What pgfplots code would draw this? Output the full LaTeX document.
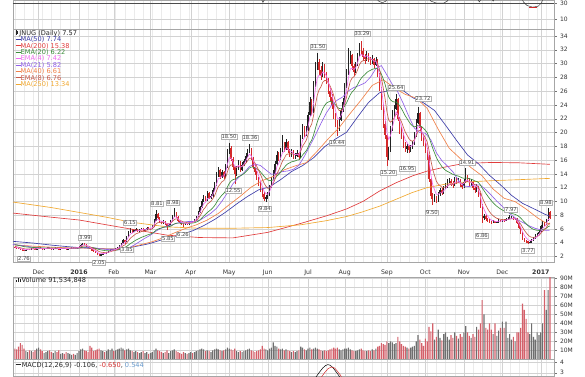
\documentclass[border=0pt]{standalone}
\usepackage{pgfplots}
\pgfplotsset{compat=1.18}
\usepackage{pgfplotstable}
\usepackage{fontspec}
\setmainfont{DejaVu Sans}
\definecolor{cma50}{HTML}{3C3CA8}
\definecolor{cma200}{HTML}{E03C3C}
\definecolor{cema20}{HTML}{3C8C3C}
\definecolor{cema4}{HTML}{F06CF0}
\definecolor{cma21}{HTML}{9060E8}
\definecolor{cma40}{HTML}{F08048}
\definecolor{cema8}{HTML}{C85A4A}
\definecolor{cma250}{HTML}{F0A830}
\definecolor{cred}{HTML}{D42A2A}
\definecolor{cblk}{HTML}{222222}
\definecolor{vred}{HTML}{D4606A}
\definecolor{vgray}{HTML}{6E6E6E}
\definecolor{gmaj}{HTML}{D2D2D2}
\definecolor{gmin}{HTML}{EBEBEB}
\definecolor{mblue}{HTML}{6699CC}

\pgfplotstableread{
x o h l c v e4 e8 e20
-35 3.40 3.48 3.28 3.35 12 3.35 3.45 3.71
-34 3.35 3.42 3.18 3.25 11 3.31 3.41 3.67
-33 3.25 3.30 3.05 3.10 14 3.23 3.34 3.61
-32 3.10 3.20 2.98 3.05 18 3.16 3.27 3.56
-31 3.05 3.10 2.88 2.95 16 3.07 3.20 3.50
-30 2.95 3.00 2.76 2.85 12 2.98 3.12 3.44
-29 2.85 3.05 2.82 3.00 9 2.99 3.10 3.40
-28 3.00 3.15 2.95 3.10 8 3.03 3.10 3.37
-27 3.10 3.16 2.98 3.05 10 3.04 3.09 3.34
-26 3.05 3.25 3.00 3.20 9 3.10 3.11 3.33
-25 3.20 3.28 3.08 3.15 8 3.12 3.12 3.31
-24 3.15 3.20 2.98 3.05 10 3.09 3.11 3.29
-23 3.05 3.26 3.02 3.20 12 3.14 3.13 3.28
-22 3.20 3.36 3.14 3.30 13 3.20 3.17 3.28
-21 3.30 3.34 3.10 3.15 11 3.18 3.16 3.27
-20 3.15 3.20 3.00 3.05 9 3.13 3.14 3.25
-19 3.05 3.16 2.98 3.10 7 3.12 3.13 3.23
-18 3.10 3.30 3.06 3.25 8 3.17 3.16 3.23
-17 3.25 3.42 3.20 3.35 9 3.24 3.20 3.25
-16 3.35 3.38 3.15 3.20 10 3.23 3.20 3.24
-15 3.20 3.24 3.04 3.10 8 3.18 3.18 3.23
-14 3.10 3.22 3.05 3.15 7 3.17 3.17 3.22
-13 3.15 3.35 3.12 3.30 9 3.22 3.20 3.23
-12 3.30 3.34 3.14 3.20 8 3.21 3.20 3.23
-11 3.20 3.24 3.00 3.05 10 3.15 3.17 3.21
-10 3.05 3.20 3.00 3.15 6 3.15 3.16 3.20
-9 3.15 3.30 3.10 3.25 7 3.19 3.18 3.21
-8 3.25 3.30 3.14 3.20 6 3.19 3.19 3.21
-7 3.20 3.24 3.05 3.10 8 3.16 3.17 3.20
-6 3.10 3.20 3.04 3.15 7 3.15 3.16 3.19
-5 3.15 3.30 3.10 3.25 6 3.19 3.18 3.20
-4 3.25 3.36 3.20 3.30 5 3.24 3.21 3.21
-3 3.30 3.34 3.16 3.20 6 3.22 3.21 3.21
-2 3.20 3.30 3.15 3.25 5 3.23 3.22 3.21
-1 3.25 3.38 3.20 3.30 7 3.26 3.24 3.22
0 3.30 3.55 3.28 3.45 9 3.34 3.28 3.24
1 3.45 3.78 3.40 3.70 11 3.48 3.38 3.29
2 3.70 3.99 3.62 3.90 12 3.65 3.49 3.34
3 3.90 3.95 3.65 3.75 10 3.69 3.55 3.38
4 3.75 3.80 3.45 3.50 9 3.61 3.54 3.39
5 3.50 3.55 3.22 3.30 8 3.49 3.49 3.39
6 3.30 3.35 3.02 3.10 15 3.33 3.40 3.36
7 3.10 3.14 2.84 2.90 13 3.16 3.29 3.31
8 2.90 2.95 2.68 2.75 9 3.00 3.17 3.26
9 2.75 2.80 2.48 2.55 10 2.82 3.03 3.19
10 2.55 2.58 2.22 2.30 11 2.61 2.87 3.11
11 2.30 2.36 2.05 2.15 12 2.43 2.71 3.02
12 2.15 2.40 2.10 2.35 10 2.40 2.63 2.95
13 2.35 2.56 2.30 2.50 9 2.44 2.60 2.91
14 2.50 2.54 2.34 2.40 8 2.42 2.56 2.86
15 2.40 2.66 2.38 2.60 9 2.49 2.57 2.84
16 2.60 2.86 2.56 2.80 11 2.62 2.62 2.83
17 2.80 3.02 2.76 2.95 10 2.75 2.69 2.84
18 2.95 3.16 2.90 3.10 12 2.89 2.78 2.87
19 3.10 3.15 2.94 3.00 9 2.93 2.83 2.88
20 3.00 3.26 2.96 3.20 10 3.04 2.91 2.91
21 3.20 3.42 3.16 3.35 11 3.16 3.01 2.95
22 3.35 3.68 3.30 3.60 12 3.34 3.14 3.02
23 3.60 4.00 3.55 3.90 13 3.56 3.31 3.10
24 3.90 4.55 3.88 4.40 12 3.90 3.55 3.22
25 4.40 4.45 3.85 4.10 10 3.98 3.67 3.31
26 4.10 5.00 4.05 4.90 11 4.35 3.95 3.46
27 4.90 5.65 4.85 5.50 12 4.81 4.29 3.65
28 5.50 6.15 5.40 5.90 10 5.25 4.65 3.87
29 5.90 5.98 5.45 5.60 9 5.39 4.86 4.03
30 5.60 5.90 5.50 5.80 8 5.55 5.07 4.20
31 5.80 6.10 5.70 6.00 9 5.73 5.28 4.37
32 6.00 6.05 5.62 5.70 8 5.72 5.37 4.50
33 5.70 6.00 5.60 5.90 7 5.79 5.49 4.63
34 5.90 6.20 5.84 6.10 8 5.92 5.62 4.77
35 6.10 6.14 5.72 5.80 9 5.87 5.66 4.87
36 5.80 6.05 5.72 5.95 7 5.90 5.73 4.97
37 5.95 6.30 5.90 6.20 8 6.02 5.83 5.09
38 6.20 6.26 5.92 6.00 6 6.01 5.87 5.18
39 6.00 6.20 5.94 6.10 7 6.05 5.92 5.26
40 6.10 6.55 6.05 6.40 8 6.19 6.03 5.37
41 6.40 7.40 6.35 7.20 10 6.59 6.29 5.55
42 7.20 8.81 7.10 8.20 12 7.24 6.71 5.80
43 8.20 8.30 7.40 7.60 10 7.38 6.91 5.97
44 7.60 7.70 6.90 7.00 9 7.23 6.93 6.07
45 7.00 7.10 6.65 6.80 8 7.06 6.90 6.14
46 6.80 7.25 6.70 7.10 7 7.07 6.95 6.23
47 7.10 7.15 6.55 6.70 8 6.92 6.89 6.27
48 6.70 6.78 5.85 6.40 10 6.72 6.78 6.29
49 6.40 6.75 6.30 6.60 7 6.67 6.74 6.32
50 6.60 7.35 6.55 7.20 9 6.88 6.84 6.40
51 7.20 8.05 7.10 7.90 10 7.29 7.08 6.54
52 7.90 8.98 7.80 8.40 11 7.73 7.37 6.72
53 8.40 8.50 7.65 7.80 9 7.76 7.47 6.82
54 7.80 7.90 7.00 7.10 8 7.50 7.39 6.85
55 7.10 7.20 6.70 6.80 7 7.22 7.26 6.84
56 6.80 6.90 6.55 6.70 6 7.01 7.13 6.83
57 6.70 6.80 6.26 6.60 8 6.85 7.01 6.81
58 6.60 6.90 6.50 6.80 7 6.83 6.97 6.81
59 6.80 6.88 6.60 6.70 6 6.78 6.91 6.80
60 6.70 7.00 6.62 6.90 7 6.83 6.91 6.81
61 6.90 7.20 6.82 7.10 8 6.94 6.95 6.84
62 7.10 7.18 6.90 7.00 7 6.96 6.96 6.85
63 7.00 7.50 6.95 7.40 8 7.14 7.06 6.90
64 7.40 7.95 7.35 7.80 9 7.40 7.22 6.99
65 7.80 8.60 7.75 8.40 10 7.80 7.48 7.12
66 8.40 9.40 8.30 9.20 11 8.36 7.87 7.32
67 9.20 10.30 9.10 10.00 12 9.02 8.34 7.58
68 10.00 10.90 9.90 10.60 11 9.65 8.84 7.86
69 10.60 10.80 10.00 10.20 9 9.87 9.14 8.09
70 10.20 11.50 10.10 11.20 10 10.40 9.60 8.38
71 11.20 11.40 10.30 10.50 9 10.44 9.80 8.58
72 10.50 11.10 10.30 10.80 8 10.59 10.02 8.80
73 10.80 11.90 10.70 11.60 10 10.99 10.37 9.06
74 11.60 12.80 11.50 12.40 11 11.56 10.82 9.38
75 12.40 14.20 12.30 13.80 12 12.45 11.48 9.80
76 13.80 15.00 13.60 14.50 11 13.27 12.15 10.25
77 14.50 14.70 13.30 13.60 10 13.40 12.48 10.57
78 13.60 14.60 13.40 14.20 9 13.72 12.86 10.91
79 14.20 14.40 13.20 13.50 10 13.63 13.00 11.16
80 13.50 15.40 13.40 15.00 11 14.18 13.44 11.53
81 15.00 17.60 14.90 17.20 13 15.39 14.28 12.07
82 17.20 18.50 16.90 17.80 12 16.35 15.06 12.61
83 17.80 18.00 15.80 16.20 11 16.29 15.31 12.95
84 16.20 16.40 14.60 15.00 10 15.78 15.24 13.15
85 15.00 15.20 12.55 14.00 12 15.07 14.97 13.23
86 14.00 15.20 13.70 14.80 9 14.96 14.93 13.38
87 14.80 16.00 14.60 15.60 8 15.22 15.08 13.59
88 15.60 15.80 14.30 14.60 9 14.97 14.97 13.69
89 14.60 15.70 14.40 15.30 8 15.10 15.05 13.84
90 15.30 16.20 15.10 15.80 9 15.38 15.21 14.03
91 15.80 17.00 15.60 16.60 10 15.87 15.52 14.27
92 16.60 17.60 16.40 17.20 11 16.40 15.89 14.55
93 17.20 18.36 17.00 17.60 12 16.88 16.27 14.84
94 17.60 17.80 16.00 16.20 10 16.61 16.26 14.97
95 16.20 16.40 14.70 15.00 9 15.97 15.98 14.97
96 15.00 15.30 13.90 14.20 8 15.26 15.58 14.90
97 14.20 14.40 13.10 13.40 9 14.52 15.10 14.76
98 13.40 13.60 12.20 12.60 10 13.75 14.54 14.55
99 12.60 12.80 11.40 11.80 11 12.97 13.93 14.29
100 11.80 12.00 10.60 11.00 15 12.18 13.28 13.98
101 11.00 11.30 10.00 10.40 12 11.47 12.64 13.64
102 10.40 10.90 9.84 10.60 11 11.12 12.19 13.35
103 10.60 11.30 10.30 10.90 10 11.03 11.90 13.11
104 10.90 12.40 10.80 12.00 12 11.42 11.92 13.01
105 12.00 13.60 11.90 13.20 13 12.13 12.21 13.03
106 13.20 14.50 13.00 14.00 19 12.88 12.61 13.12
107 14.00 15.80 13.90 15.40 15 13.89 13.23 13.34
108 15.40 17.30 15.30 16.80 14 15.05 14.02 13.67
109 16.80 17.10 15.80 16.20 12 15.51 14.50 13.91
110 16.20 17.80 16.00 17.40 11 16.27 15.15 14.24
111 17.40 19.60 17.20 18.20 12 17.04 15.83 14.62
112 18.20 18.60 17.20 17.60 10 17.26 16.22 14.90
113 17.60 19.00 17.40 18.60 11 17.80 16.75 15.25
114 18.60 18.80 17.00 17.40 10 17.64 16.89 15.46
115 17.40 17.60 16.40 16.80 9 17.30 16.87 15.59
116 16.80 17.60 16.50 17.20 8 17.26 16.95 15.74
117 17.20 17.40 16.10 16.40 9 16.92 16.82 15.80
118 16.40 17.00 16.10 16.60 8 16.79 16.77 15.88
119 16.60 17.40 16.40 17.00 9 16.87 16.82 15.99
120 17.00 17.20 16.00 16.40 10 16.68 16.73 16.03
121 16.40 19.60 16.30 19.20 14 17.69 17.28 16.33
122 19.20 21.20 19.00 20.60 13 18.85 18.02 16.73
123 20.60 20.90 19.40 19.80 11 19.23 18.41 17.03
124 19.80 20.90 19.50 20.40 10 19.70 18.85 17.35
125 20.40 23.00 20.20 22.60 12 20.86 19.69 17.85
126 22.60 25.20 22.40 24.40 13 22.28 20.73 18.47
127 24.40 24.80 22.60 23.00 11 22.57 21.24 18.90
128 23.00 27.40 22.90 26.80 12 24.26 22.47 19.65
129 26.80 30.20 26.60 29.40 13 26.32 24.01 20.58
130 29.40 31.50 29.00 30.20 12 27.87 25.38 21.50
131 30.20 30.60 28.40 29.00 11 28.32 26.19 22.21
132 29.00 29.60 27.60 28.20 10 28.27 26.63 22.78
133 28.20 30.20 28.00 29.60 9 28.80 27.29 23.43
134 29.60 29.90 27.90 28.40 10 28.64 27.54 23.90
135 28.40 28.80 27.00 27.60 9 28.23 27.55 24.26
136 27.60 27.90 25.60 26.00 10 27.34 27.21 24.42
137 26.00 26.40 24.60 25.20 11 26.48 26.76 24.50
138 25.20 25.60 23.40 24.00 12 25.49 26.15 24.45
139 24.00 24.20 22.00 22.60 13 24.33 25.36 24.27
140 22.60 22.90 20.80 21.40 12 23.16 24.48 24.00
141 21.40 21.80 19.44 20.40 13 22.06 23.58 23.66
142 20.40 22.20 20.20 21.80 11 21.95 23.18 23.48
143 21.80 23.60 21.60 23.20 10 22.45 23.19 23.45
144 23.20 25.00 23.00 24.40 11 23.23 23.46 23.54
145 24.40 27.20 24.20 26.60 12 24.58 24.15 23.83
146 26.60 29.20 26.40 28.60 12 26.19 25.14 24.29
147 28.60 32.20 28.40 30.40 13 27.87 26.31 24.87
148 30.40 31.80 30.00 31.20 11 29.20 27.40 25.47
149 31.20 31.40 29.00 29.60 10 29.36 27.89 25.87
150 29.60 29.90 28.20 28.80 9 29.14 28.09 26.15
151 28.80 30.20 28.60 29.80 9 29.40 28.47 26.49
152 29.80 31.60 29.60 31.20 10 30.12 29.08 26.94
153 31.20 33.00 31.00 32.40 11 31.03 29.81 27.46
154 32.40 33.29 31.20 31.80 12 31.34 30.25 27.87
155 31.80 32.20 30.40 31.00 10 31.20 30.42 28.17
156 31.00 31.40 30.00 30.60 9 30.96 30.46 28.40
157 30.60 31.80 30.40 31.40 9 31.14 30.67 28.69
158 31.40 31.60 30.20 30.80 10 31.00 30.70 28.89
159 30.80 31.00 29.80 30.20 9 30.68 30.59 29.01
160 30.20 31.20 29.90 30.60 11 30.65 30.59 29.17
161 30.60 30.80 29.40 29.80 10 30.31 30.42 29.23
162 29.80 30.90 29.60 30.40 12 30.35 30.41 29.34
163 30.40 30.60 28.00 28.40 14 29.57 29.97 29.25
164 28.40 28.60 26.00 26.40 15 28.30 29.17 28.98
165 26.40 26.60 23.20 23.80 18 26.50 27.98 28.48
166 23.80 24.00 20.60 21.20 17 24.38 26.48 27.79
167 21.20 21.60 19.00 19.60 16 22.47 24.95 27.01
168 19.60 19.80 15.20 16.40 20 20.04 23.05 26.00
169 16.40 17.90 16.00 17.40 18 18.99 21.80 25.18
170 17.40 20.90 17.20 20.40 20 19.55 21.49 24.73
171 20.40 23.20 20.20 22.60 19 20.77 21.73 24.52
172 22.60 24.00 22.20 23.40 17 21.82 22.10 24.42
173 23.40 25.64 23.20 24.80 18 23.01 22.70 24.45
174 24.80 25.00 21.60 22.00 25 22.61 22.55 24.22
175 22.00 22.20 19.80 20.40 20 21.73 22.07 23.86
176 20.40 20.80 19.00 19.60 17 20.88 21.52 23.45
177 19.60 19.90 17.80 18.20 15 19.81 20.78 22.95
178 18.20 18.60 17.20 17.60 14 18.92 20.08 22.44
179 17.60 18.40 16.95 18.00 13 18.55 19.62 22.02
180 18.00 18.20 17.00 17.40 12 18.09 19.12 21.58
181 17.40 18.20 17.10 17.80 13 17.98 18.83 21.22
182 17.80 18.80 17.60 18.40 14 18.15 18.73 20.95
183 18.40 20.00 18.20 19.60 15 18.73 18.93 20.82
184 19.60 22.00 19.40 21.40 20 19.80 19.48 20.88
185 21.40 23.72 21.20 22.80 27 21.00 20.21 21.06
186 22.80 23.00 20.20 20.60 22 20.84 20.30 21.02
187 20.60 20.80 18.80 19.20 18 20.18 20.06 20.84
188 19.20 19.60 18.00 18.40 15 19.47 19.69 20.61
189 18.40 18.80 17.00 17.60 23 18.72 19.22 20.32
190 17.60 17.80 16.00 16.60 20 17.87 18.64 19.97
191 16.60 16.80 12.80 13.20 36 16.00 17.43 19.33
192 13.20 13.40 10.40 10.80 31 13.92 15.96 18.51
193 10.80 11.20 9.50 10.20 40 12.43 14.68 17.72
194 10.20 11.00 9.90 10.60 22 11.70 13.77 17.04
195 10.60 10.80 9.70 10.00 25 11.02 12.94 16.37
196 10.00 11.30 9.90 11.00 33 11.01 12.51 15.86
197 11.00 12.00 10.80 11.60 24 11.25 12.30 15.46
198 11.60 11.90 10.90 11.20 21 11.23 12.06 15.05
199 11.20 12.30 11.00 12.00 28 11.54 12.05 14.76
200 12.00 12.60 11.80 12.20 30 11.80 12.08 14.52
201 12.20 13.20 12.00 12.80 25 12.20 12.24 14.35
202 12.80 13.40 12.60 13.00 22 12.52 12.41 14.23
203 13.00 13.20 12.30 12.60 27 12.55 12.45 14.07
204 12.60 12.90 12.00 12.40 24 12.49 12.44 13.91
205 12.40 13.60 12.30 13.20 30 12.78 12.61 13.84
206 13.20 13.50 12.50 12.80 26 12.79 12.65 13.74
207 12.80 13.40 12.60 13.00 23 12.87 12.73 13.67
208 13.00 13.20 12.10 12.40 28 12.68 12.66 13.55
209 12.40 12.60 11.80 12.20 25 12.49 12.56 13.42
210 12.20 13.20 12.00 12.80 30 12.61 12.61 13.36
211 12.80 14.91 12.70 13.60 37 13.01 12.83 13.39
212 13.60 13.90 12.80 13.20 30 13.09 12.91 13.37
213 13.20 13.40 12.10 12.40 26 12.81 12.80 13.28
214 12.40 13.20 12.20 12.80 24 12.81 12.80 13.23
215 12.80 13.00 11.70 12.00 28 12.48 12.62 13.11
216 12.00 12.20 11.20 11.60 25 12.13 12.39 12.97
217 11.60 12.50 11.40 12.20 36 12.16 12.35 12.90
218 12.20 12.30 10.60 11.00 33 11.70 12.05 12.72
219 11.00 11.20 9.00 9.40 40 10.78 11.46 12.40
220 9.40 9.60 6.86 7.60 66 9.51 10.60 11.94
221 7.60 8.10 7.30 7.90 50 8.86 10.00 11.56
222 7.90 8.00 7.20 7.40 35 8.28 9.43 11.16
223 7.40 7.60 6.95 7.20 33 7.85 8.93 10.79
224 7.20 7.40 6.80 7.00 40 7.51 8.50 10.43
225 7.00 7.20 6.70 6.90 33 7.27 8.15 10.09
226 6.90 7.30 6.80 7.10 28 7.20 7.91 9.80
227 7.10 7.20 6.80 6.95 40 7.10 7.70 9.53
228 6.95 7.20 6.85 7.00 26 7.06 7.54 9.29
229 7.00 7.40 6.90 7.20 32 7.12 7.47 9.09
230 7.20 7.35 6.95 7.10 35 7.11 7.39 8.90
231 7.10 7.50 7.00 7.30 42 7.19 7.37 8.75
232 7.30 7.45 7.05 7.20 35 7.19 7.33 8.60
233 7.20 7.60 7.10 7.40 42 7.28 7.35 8.49
234 7.40 7.70 7.30 7.50 24 7.37 7.38 8.39
235 7.50 7.97 7.40 7.60 28 7.46 7.43 8.32
236 7.60 7.90 7.50 7.70 22 7.56 7.49 8.26
237 7.70 7.75 7.25 7.40 25 7.49 7.47 8.18
238 7.40 7.65 7.30 7.50 20 7.50 7.48 8.11
239 7.50 7.55 6.70 6.80 30 7.22 7.33 7.99
240 6.80 6.90 6.00 6.20 30 6.81 7.08 7.82
241 6.20 6.30 5.20 5.40 35 6.25 6.70 7.59
242 5.40 5.50 4.40 4.60 62 5.59 6.24 7.30
243 4.60 4.70 4.10 4.30 55 5.07 5.81 7.02
244 4.30 4.45 4.00 4.20 45 4.72 5.45 6.75
245 4.20 4.30 3.77 4.00 30 4.43 5.13 6.49
246 4.00 4.25 3.90 4.10 28 4.30 4.90 6.26
247 4.10 4.55 4.00 4.40 40 4.34 4.79 6.08
248 4.40 4.85 4.30 4.70 25 4.48 4.77 5.95
249 4.70 5.20 4.60 5.00 22 4.69 4.82 5.86
250 5.00 5.40 4.90 5.20 30 4.89 4.90 5.80
251 5.20 5.80 5.10 5.60 27 5.18 5.06 5.78
252 5.60 6.60 5.50 6.40 30 5.67 5.36 5.84
253 6.40 7.10 6.20 6.80 40 6.12 5.68 5.93
254 6.80 7.00 6.40 6.60 77 6.31 5.88 5.99
255 6.60 7.50 6.50 7.20 55 6.67 6.18 6.11
256 7.20 8.98 7.10 8.40 77 7.36 6.67 6.33
257 8.40 8.60 7.40 7.57 91.5 7.44 6.87 6.44
}\data

\pgfplotsset{
  panel/.style={
    scale only axis, width=541pt, anchor=south west,
    xmin=-36, xmax=259.2, enlargelimits=false, clip=true,
    axis line style={draw=black!35, line width=0.4pt},
    xtick={-22,0,19,39,61,82,103,125,145,168,189,210,231,252},
    minor xtick={-35,-30,...,255},
    xmajorgrids, xminorgrids, ymajorgrids,
    major grid style={draw=gmaj, line width=0.35pt},
    minor grid style={draw=gmin, line width=0.3pt},
    xtick style={draw=none}, minor tick length=0pt,
    xticklabels={},
    ytick pos=right, yticklabel pos=right,
    tick align=outside, major tick length=2.5pt,
    ytick style={draw=black!55, line width=0.35pt},
    tick label style={font=\fontsize{6}{7}\selectfont, text=black!80},
    /pgf/number format/assume math mode=true,
  },
}
\tikzset{
  lbl/.style={draw=black!30, fill=white, line width=0.3pt, inner xsep=0.8pt, inner ysep=0.6pt, font=\fontsize{5.2}{6}\selectfont, text=black!75},
  leg/.style={anchor=west, inner sep=0pt, font=\fontsize{6.6}{7}\selectfont},
}

\begin{document}
\begin{tikzpicture}
\useasboundingbox (0,0) rectangle (585pt,376pt);

% ---------- top strip (indicator panel above) ----------
\begin{axis}[panel, at={(13pt,347pt)}, height=29pt, ymin=-1.875, ymax=34.375, ytick={10,30}]
\addplot[black!70, line width=0.5pt] coordinates {(-36,30) (259.2,30)};
\addplot[black!80, line width=0.45pt] coordinates {(95,40) (98.5,40) (100.4,31.5) (102.5,40) (161,40) (163.5,33) (165.5,31) (167.5,33) (169,40) (190,40) (192,33) (195,30.5) (199,30.5) (201,33) (203,40) (216,40) (218.5,32) (220.5,40) (224,40) (226,33) (228,40) (241,40) (242.5,32) (244.5,27.5) (247.5,25.5) (250.5,26.5) (252.5,31) (253.5,40)};
\addplot[cred, line width=0.6pt] coordinates {(245.5,25) (250,25)};
\end{axis}

% ---------- price panel ----------
\begin{axis}[panel, at={(13pt,114pt)}, height=233pt, ymin=1.2, ymax=35.02,
  ytick={2,4,...,34},
  xticklabels={Dec,\textbf{2016},Feb,Mar,Apr,May,Jun,Jul,Aug,Sep,Oct,Nov,Dec,\textbf{2017}},
  xticklabel style={font=\fontsize{6.2}{7}\selectfont, text=black!80, yshift=-2pt}]
% wicks
\addplot[draw=none, mark=none, restrict expr to domain={\thisrow{o}-\thisrow{c}}{0.001:100},
  error bars/.cd, y dir=both, y explicit, error mark=none,
  error bar style={draw=cred, line width=0.5pt}]
  table[x=x, y expr={(\thisrow{h}+\thisrow{l})/2}, y error expr={(\thisrow{h}-\thisrow{l})/2}] {\data};
\addplot[draw=none, mark=none, restrict expr to domain={\thisrow{c}-\thisrow{o}}{-0.0005:100},
  error bars/.cd, y dir=both, y explicit, error mark=none,
  error bar style={draw=cblk, line width=0.5pt}]
  table[x=x, y expr={(\thisrow{h}+\thisrow{l})/2}, y error expr={(\thisrow{h}-\thisrow{l})/2}] {\data};
% bodies
\addplot[draw=none, mark=none, restrict expr to domain={\thisrow{o}-\thisrow{c}}{0.001:100},
  error bars/.cd, y dir=both, y explicit, error mark=none,
  error bar style={draw=cred, line width=1.2pt}]
  table[x=x, y expr={(\thisrow{o}+\thisrow{c})/2}, y error expr={max(abs(\thisrow{c}-\thisrow{o})/2,0.05)}] {\data};
\addplot[draw=none, mark=none, restrict expr to domain={\thisrow{c}-\thisrow{o}}{-0.0005:100},
  error bars/.cd, y dir=both, y explicit, error mark=none,
  error bar style={draw=cblk, line width=1.2pt}]
  table[x=x, y expr={(\thisrow{o}+\thisrow{c})/2}, y error expr={max(abs(\thisrow{c}-\thisrow{o})/2,0.05)}] {\data};

% MA(200)
\addplot[cma200, line width=0.65pt] coordinates {(-36,8.3) (-15,7.7) (0,7.3) (15,6.6) (28,6.0) (48,5.1) (66,4.75) (84,4.7) (103,5.5) (121,6.8) (135,7.9) (146,8.9) (155,10.0) (164,11.5) (173,12.7) (182,13.7) (190,14.4) (200,15.0) (210,15.5) (225,15.65) (240,15.6) (257,15.38)};
% MA(250)
\addplot[cma250, line width=0.65pt] coordinates {(-36,9.9) (-15,9.1) (0,8.4) (15,7.7) (28,7.0) (48,6.3) (66,6.1) (84,6.1) (103,6.2) (121,6.6) (135,7.2) (146,7.8) (155,8.5) (164,9.3) (173,10.3) (182,11.3) (190,12.0) (200,12.5) (210,12.8) (225,13.0) (240,13.15) (257,13.34)};
% MA(50)
\addplot[cma50, line width=0.65pt] coordinates {(-36,4.2) (-25,3.95) (-15,3.65) (-5,3.4) (5,3.2) (14,3.11) (20,3.09) (26,3.20) (32,3.51) (38,3.84) (44,4.32) (50,4.74) (56,5.21) (62,5.73) (68,6.47) (74,7.37) (80,8.43) (86,9.62) (92,10.72) (98,11.67) (104,12.10) (110,13.15) (116,14.33) (122,15.19) (128,16.33) (134,17.93) (140,19.06) (146,20.03) (152,22.25) (158,24.36) (164,25.77) (170,26.14) (176,26.26) (182,25.07) (188,24.30) (194,23.20) (200,21.06) (206,18.86) (212,16.74) (218,15.46) (224,13.78) (230,12.40) (236,10.88) (242,9.72) (248,8.95) (254,8.16) (257,7.84)};
% MA(40)
\addplot[cma40, line width=0.65pt] coordinates {(-36,3.7) (-25,3.5) (-15,3.35) (-5,3.25) (4,3.22) (10,3.18) (16,3.09) (22,3.09) (28,3.33) (34,3.73) (40,4.15) (46,4.72) (52,5.42) (58,6.06) (64,6.59) (70,7.29) (76,8.24) (82,9.52) (88,10.74) (94,12.08) (100,13.02) (106,13.62) (112,14.58) (118,15.15) (124,15.62) (130,17.28) (136,19.08) (142,20.72) (148,22.77) (154,24.73) (160,26.83) (166,27.66) (172,26.49) (178,25.53) (184,25.00) (190,23.50) (196,20.48) (202,17.72) (208,16.23) (214,14.89) (220,13.71) (226,11.78) (232,10.45) (238,9.96) (244,8.88) (250,7.65) (254,6.99) (257,6.67)};
% MA(21)
\addplot[cma21, line width=0.65pt] coordinates {(-36,3.75) (-30,3.55) (-25,3.35) (-20,3.2) (-15,3.13) (-12,3.13) (-9,3.16) (-6,3.17) (-3,3.19) (0,3.21) (3,3.30) (6,3.31) (9,3.24) (12,3.12) (15,3.02) (18,2.98) (21,2.96) (24,2.99) (27,3.21) (30,3.64) (33,4.15) (36,4.65) (39,5.10) (42,5.68) (45,6.13) (48,6.40) (51,6.61) (54,6.88) (57,6.99) (60,7.09) (63,7.08) (66,7.27) (69,7.77) (72,8.29) (75,8.98) (78,10.03) (81,11.24) (84,12.55) (87,13.45) (90,14.16) (93,15.06) (96,15.42) (99,15.21) (102,14.56) (105,13.94) (108,14.03) (111,14.32) (114,14.42) (117,14.66) (120,15.24) (123,16.56) (126,18.05) (129,19.62) (132,21.31) (135,22.84) (138,24.02) (141,24.71) (144,25.17) (147,26.04) (150,26.53) (153,26.82) (156,27.19) (159,28.01) (162,29.27) (165,29.71) (168,28.35) (171,26.96) (174,25.86) (177,24.18) (180,22.31) (183,20.64) (186,19.98) (189,19.89) (192,18.94) (195,17.07) (198,15.91) (201,15.14) (204,14.30) (207,13.07) (210,12.22) (213,12.15) (216,12.42) (219,12.36) (222,11.69) (225,10.89) (228,10.03) (231,9.28) (234,8.46) (237,7.81) (240,7.24) (243,6.83) (246,6.41) (249,6.08) (252,5.87) (255,5.80) (257,5.83)};
% EMA(20), EMA(8), EMA(4)
\addplot[cema20, line width=0.65pt] table[x=x, y=e20] {\data};
\addplot[cema8, line width=0.65pt] table[x=x, y=e8] {\data};
\addplot[cema4, line width=0.65pt] table[x=x, y=e4] {\data};
\end{axis}

% ---------- volume panel ----------
\begin{axis}[panel, at={(13pt,16.7pt)}, height=82.3pt, ymin=0, ymax=91.7,
  ytick={10,20,...,90}, yticklabels={10M,20M,30M,40M,50M,60M,70M,80M,90M}]
\addplot[ybar, bar width=1.15pt, bar shift=0pt, fill=vred, draw=none,
  restrict expr to domain={\thisrow{o}-\thisrow{c}}{0.001:100}] table[x=x, y=v] {\data};
\addplot[ybar, bar width=1.15pt, bar shift=0pt, fill=vgray, draw=none,
  restrict expr to domain={\thisrow{c}-\thisrow{o}}{-0.0005:100}] table[x=x, y=v] {\data};
\end{axis}

% ---------- MACD panel (cut off) ----------
\begin{axis}[panel, at={(13pt,0pt)}, height=16.7pt, ymin=2.68, ymax=4.29, ytick={3,4}]
\addplot[black, line width=0.5pt] coordinates {(129,2.5) (131,3.0) (133,3.45) (134.5,3.68) (135.8,3.78) (137,3.72) (138.5,3.5) (140,3.15) (141.5,2.8) (142.5,2.5)};
\addplot[cred, line width=0.5pt] coordinates {(132,2.5) (134,3.0) (136,3.4) (137.8,3.55) (139.5,3.45) (141,3.15) (142.5,2.8) (143.5,2.5)};
\end{axis}

% ---------- legends ----------
\node[leg, text=black!85] at (15.5pt,342.7pt) {\rule[0.2pt]{0.6pt}{4.6pt}\rule[1.2pt]{1.6pt}{2.8pt}\hspace{1.5pt}JNUG (Daily) 7.57};
\node[leg, text=cma50]  at (15.5pt,336.3pt) {\rule[1.8pt]{5pt}{0.9pt}MA(50) 7.74};
\node[leg, text=cma200] at (15.5pt,330.0pt) {\rule[1.8pt]{5pt}{0.9pt}MA(200) 15.38};
\node[leg, text=cema20] at (15.5pt,323.6pt) {\rule[1.8pt]{5pt}{0.9pt}EMA(20) 6.22};
\node[leg, text=cema4]  at (15.5pt,317.2pt) {\rule[1.8pt]{5pt}{0.9pt}EMA(4) 7.42};
\node[leg, text=cma21]  at (15.5pt,310.8pt) {\rule[1.8pt]{5pt}{0.9pt}MA(21) 5.82};
\node[leg, text=cma40]  at (15.5pt,304.4pt) {\rule[1.8pt]{5pt}{0.9pt}MA(40) 6.61};
\node[leg, text=cema8]  at (15.5pt,298.0pt) {\rule[1.8pt]{5pt}{0.9pt}EMA(8) 6.76};
\node[leg, text=cma250] at (15.5pt,291.6pt) {\rule[1.8pt]{5pt}{0.9pt}MA(250) 13.34};

\node[leg, text=black!85] at (15.5pt,96pt) {\rule{0.9pt}{2.5pt}\,\rule{0.9pt}{4.2pt}\,\rule{0.9pt}{3.2pt}\,Volume 91,534,848};
\node[leg, text=black!85] at (15.5pt,11pt) {\rule[1.8pt]{5pt}{0.9pt}\,MACD(12,26,9) -0.106, \textcolor{cred}{-0.650}, \textcolor{mblue}{0.544}};

% ---------- price annotations ----------
\node[lbl] at (24pt,117pt) {2.76};
\node[lbl] at (85pt,138pt) {3.99};
\node[lbl] at (99pt,113pt) {2.05};
\node[lbl] at (127pt,126pt) {3.85};
\node[lbl] at (130pt,153pt) {6.15};
\node[lbl] at (168pt,137pt) {5.85};
\node[lbl] at (183pt,141pt) {6.26};
\node[lbl] at (157pt,172pt) {8.81};
\node[lbl] at (173pt,173pt) {8.98};
\node[lbl] at (229pt,239pt) {18.50};
\node[lbl] at (250pt,238pt) {18.36};
\node[lbl] at (233pt,185pt) {12.55};
\node[lbl] at (265pt,167pt) {9.84};
\node[lbl] at (318pt,329pt) {31.50};
\node[lbl] at (362pt,342pt) {33.29};
\node[lbl] at (337pt,233pt) {19.44};
\node[lbl] at (396pt,288pt) {25.64};
\node[lbl] at (423pt,277pt) {23.72};
\node[lbl] at (407pt,207pt) {16.95};
\node[lbl] at (388pt,203pt) {15.20};
\node[lbl] at (467pt,213pt) {14.91};
\node[lbl] at (432pt,163pt) {9.50};
\node[lbl] at (511pt,166pt) {7.97};
\node[lbl] at (482pt,140pt) {6.86};
\node[lbl] at (528pt,125pt) {3.77};
\node[lbl] at (546pt,173pt) {8.98};
\end{tikzpicture}
\end{document}
